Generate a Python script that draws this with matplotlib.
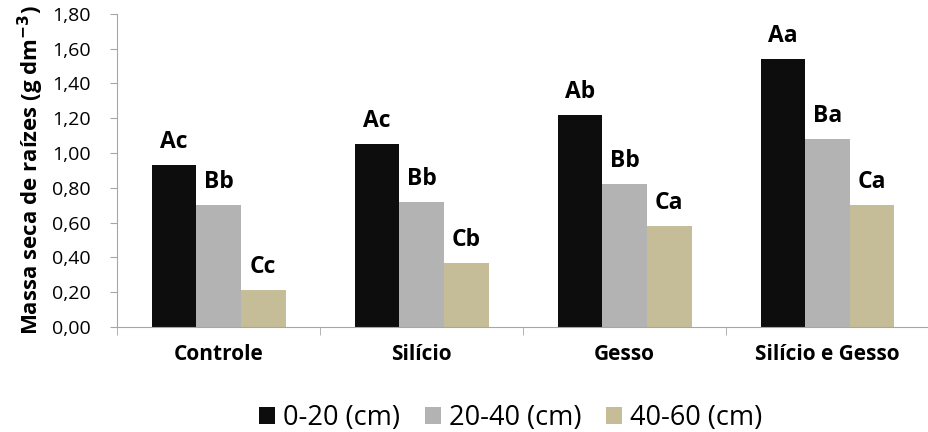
import numpy as np
import matplotlib.pyplot as plt

plt.rcParams['font.family'] = ['Open Sans', 'DejaVu Sans']

categories = ['Controle', 'Silício', 'Gesso', 'Silício e Gesso']
series_names = ['0-20 (cm)', '20-40 (cm)', '40-60 (cm)']
values = {
    '0-20 (cm)': [0.93, 1.05, 1.22, 1.54],
    '20-40 (cm)': [0.70, 0.72, 0.82, 1.08],
    '40-60 (cm)': [0.21, 0.37, 0.58, 0.70],
}
letters = {
    '0-20 (cm)': ['Ac', 'Ac', 'Ab', 'Aa'],
    '20-40 (cm)': ['Bb', 'Bb', 'Bb', 'Ba'],
    '40-60 (cm)': ['Cc', 'Cb', 'Ca', 'Ca'],
}
colors = ['#0d0d0d', '#b3b3b3', '#c4bd97']
y_ticks = [0.0, 0.2, 0.4, 0.6, 0.8, 1.0, 1.2, 1.4, 1.6, 1.8]

fig = plt.figure(figsize=(9.29, 4.32), dpi=100)
ax = fig.add_axes([0.126, 0.243, 0.874, 0.725])

x = np.arange(len(categories))
w = 0.22
for i, name in enumerate(series_names):
    pos = x + (i - 1) * w
    bars = ax.bar(pos, values[name], width=w, color=colors[i], label=name)
    for b, lab in zip(bars, letters[name]):
        ax.annotate(lab, (b.get_x() + b.get_width() / 2, b.get_height()),
                    xytext=(0, 8), textcoords='offset points',
                    ha='center', va='bottom', fontsize=16.5, fontweight='bold')

ax.set_xlim(-0.5, len(categories) - 0.5)
ax.set_ylim(0, 1.8)
ax.set_yticks(y_ticks)
ax.set_yticklabels([f'{v:.2f}'.replace('.', ',') for v in y_ticks], fontsize=14)
ax.set_xticks(x)
ax.set_xticklabels(categories, fontsize=15, fontweight='bold')
ax.tick_params(axis='x', length=0, pad=12)
ax.set_xticks(np.arange(len(categories) + 1) - 0.5, minor=True)
ax.tick_params(axis='x', which='minor', length=6, color='#a6a6a6')
ax.tick_params(axis='y', length=5, color='#a6a6a6', pad=14)

for s in ['top', 'right']:
    ax.spines[s].set_visible(False)
for s in ['left', 'bottom']:
    ax.spines[s].set_color('#a6a6a6')

ax.set_ylabel('Massa seca de raízes (g dm$^{\\mathbf{-3}}$)', fontsize=16, fontweight='bold', labelpad=4)

ax.legend(loc='center', bbox_to_anchor=(0.485, -0.29), ncol=3, frameon=False,
          fontsize=19.5, handlelength=0.6, handleheight=0.6, handletextpad=0.3, columnspacing=0.9)

fig.savefig('out.png', dpi=100)
